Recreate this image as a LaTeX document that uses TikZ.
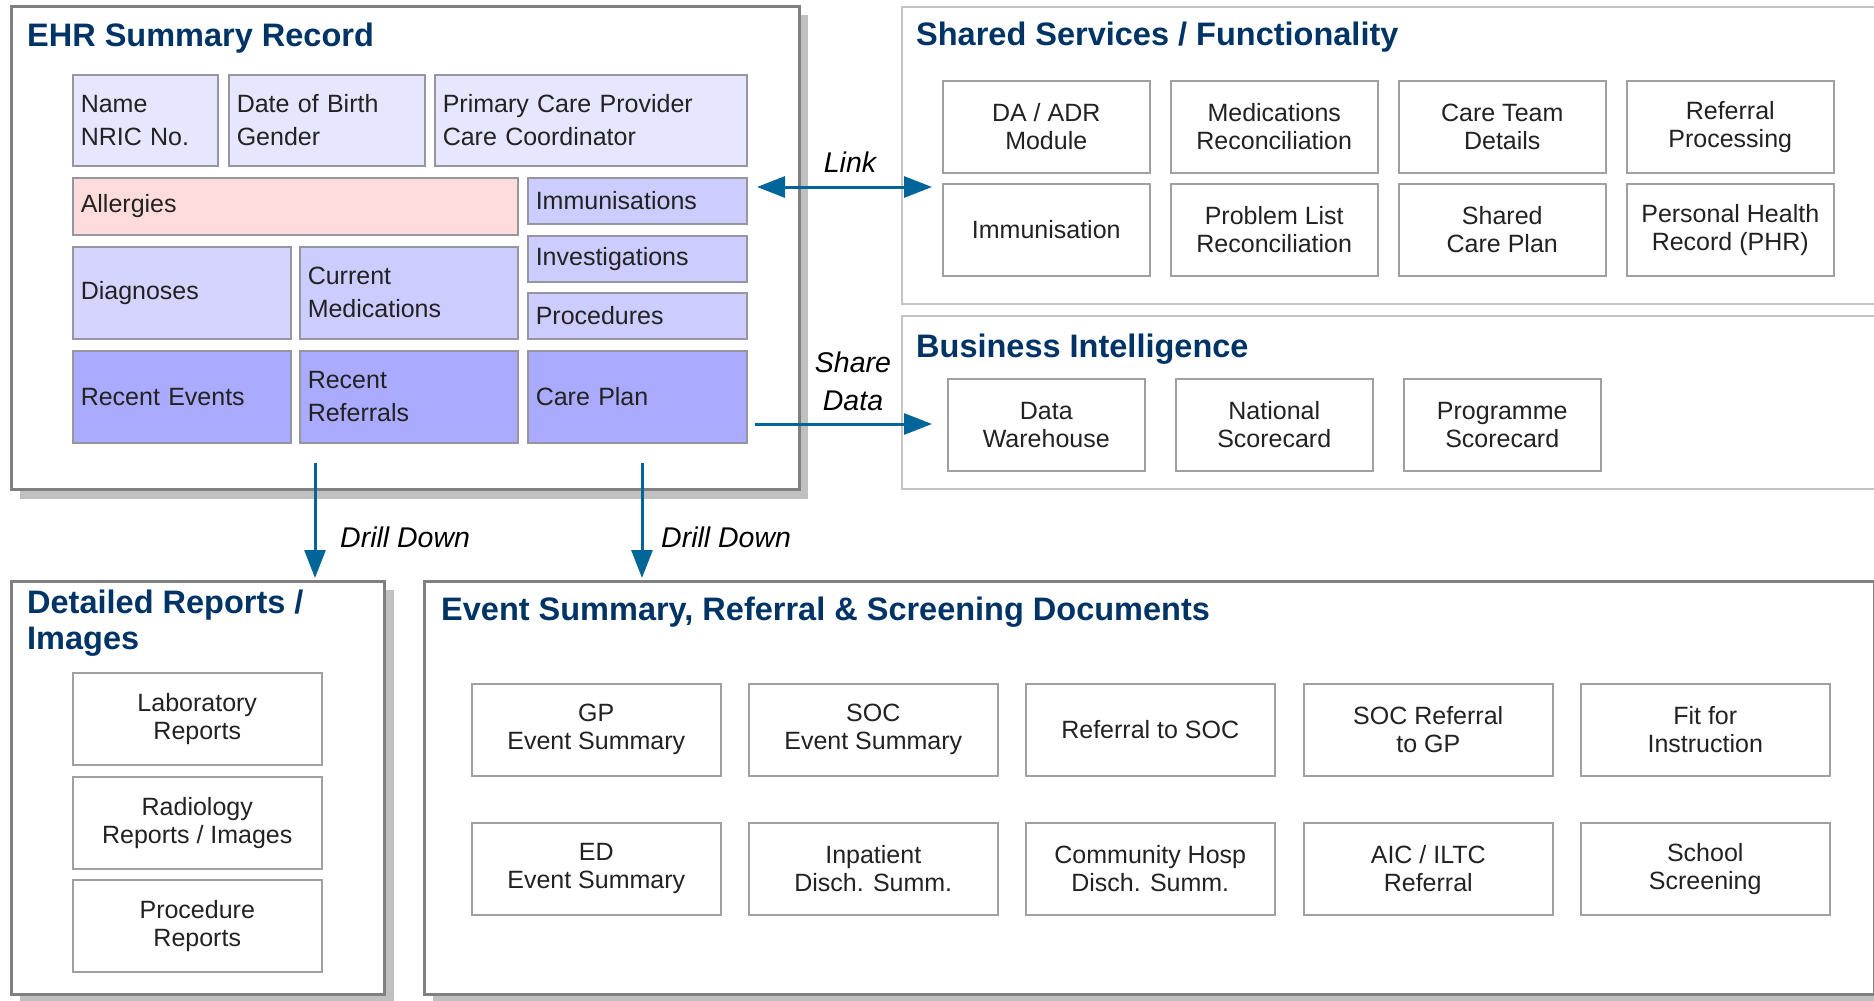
\documentclass[tikz,border=0pt]{standalone}
\usepackage{fontspec}
\setmainfont{Liberation Sans}
\usetikzlibrary{arrows.meta}

\definecolor{titleblue}{RGB}{0,51,102}
\definecolor{arrowblue}{RGB}{0,102,153}
\definecolor{panelgray}{RGB}{128,128,128}
\definecolor{lightpanel}{RGB}{196,196,196}
\definecolor{shadowgray}{RGB}{192,192,192}
\definecolor{boxgray}{RGB}{160,160,160}
\definecolor{innergray}{RGB}{150,150,160}
\definecolor{paleblue}{RGB}{230,230,255}
\definecolor{midblue}{RGB}{204,204,255}
\definecolor{deepblue}{RGB}{170,170,255}
\definecolor{palepink}{RGB}{255,220,220}
\definecolor{textgray}{RGB}{34,34,34}

\tikzset{
  panel/.style={draw=panelgray, line width=2.5pt, fill=white, anchor=north west, inner sep=0pt},
  softpanel/.style={draw=lightpanel, line width=2pt, fill=white, anchor=north west, inner sep=0pt},
  paneltitle/.style={anchor=base west, text=titleblue, font=\fontsize{32.5}{36}\selectfont\bfseries, inner sep=0pt},
  ehrbox/.style={draw=innergray, line width=1.5pt, anchor=north west, align=left, text=textgray,
    font=\fontsize{25}{33}\selectfont, inner xsep=8pt, inner ysep=0pt},
  whitebox/.style={draw=boxgray, line width=1.5pt, fill=white, anchor=north west, align=center,
    text=textgray, font=\fontsize{25}{28}\selectfont, inner sep=0pt, minimum height=92pt},
  flowlabel/.style={text=black, font=\fontsize{28.5}{38}\selectfont\itshape, inner sep=0pt},
  flow/.style={draw=arrowblue, line width=3pt, -{Triangle[length=28pt,width=21pt]}},
  flowboth/.style={draw=arrowblue, line width=3pt, {Triangle[length=28pt,width=21pt]}-{Triangle[length=28pt,width=21pt]}}
}

\begin{document}
\begin{tikzpicture}[x=1pt,y=-1pt]
\useasboundingbox (0,0) rectangle (1874,1001);
\fill[white] (0,0) rectangle (1874,1001);

% EHR summary record
\fill[shadowgray] (20,15) rectangle (808,499);
\node[panel, minimum width=788pt, minimum height=483pt] at (10,5) (ehr) {};
\node[paneltitle] at (27,46) (ehrtitle) {EHR Summary Record};
\node[ehrbox, fill=paleblue, text width=129pt, minimum height=91pt] at (72,74) (name) {Name\\NRIC No.};
\node[ehrbox, fill=paleblue, text width=180pt, minimum height=91pt] at (228,74) (dob) {Date of Birth\\Gender};
\node[ehrbox, fill=paleblue, text width=296pt, minimum height=91pt] at (434,74) (pcp) {Primary Care Provider\\Care Coordinator};
\node[ehrbox, fill=palepink, text width=429pt, minimum height=57pt] at (72,177) (allergies) {Allergies};
\node[ehrbox, fill=midblue, text width=203pt, minimum height=46pt] at (527,177) (immun) {Immunisations};
\node[ehrbox, fill=midblue, text width=203pt, minimum height=46pt] at (527,235) (invest) {Investigations};
\node[ehrbox, fill=midblue, text width=203pt, minimum height=46pt] at (527,292) (proc) {Procedures};
\node[ehrbox, fill=midblue!85!white, text width=202pt, minimum height=92pt] at (72,246) (diag) {Diagnoses};
\node[ehrbox, fill=midblue, text width=202pt, minimum height=92pt] at (299,246) (curmed) {Current\\Medications};
\node[ehrbox, fill=deepblue, text width=202pt, minimum height=92pt] at (72,350) (recevt) {Recent Events};
\node[ehrbox, fill=deepblue, text width=202pt, minimum height=92pt] at (299,350) (recref) {Recent\\Referrals};
\node[ehrbox, fill=deepblue, text width=203pt, minimum height=92pt] at (527,350) (careplan) {Care Plan};

% shared services
\node[softpanel, minimum width=990pt, minimum height=297pt] at (901,6) (shared) {};
\node[paneltitle] at (916,45) (sharedtitle) {Shared Services / Functionality};
\node[whitebox, minimum width=207pt] at (942,80) (daadr) {DA / ADR\\Module};
\node[whitebox, minimum width=207pt] at (1170,80) (medrec) {Medications\\Reconciliation};
\node[whitebox, minimum width=207pt] at (1398,80) (careteam) {Care Team\\Details};
\node[whitebox, minimum width=207pt] at (1626,80) (refproc) {Referral\\Processing};
\node[whitebox, minimum width=207pt] at (942,183) (immunsvc) {Immunisation};
\node[whitebox, minimum width=207pt] at (1170,183) (probrec) {Problem List\\Reconciliation};
\node[whitebox, minimum width=207pt] at (1398,183) (sharedplan) {Shared\\Care Plan};
\node[whitebox, minimum width=207pt] at (1626,183) (phr) {Personal Health\\Record (PHR)};

% business intelligence
\node[softpanel, minimum width=990pt, minimum height=173pt] at (901,315) (bi) {};
\node[paneltitle] at (916,357) (bititle) {Business Intelligence};
\node[whitebox, minimum width=197pt] at (947,378) (warehouse) {Data\\Warehouse};
\node[whitebox, minimum width=197pt] at (1175,378) (natscore) {National\\Scorecard};
\node[whitebox, minimum width=197pt] at (1403,378) (progscore) {Programme\\Scorecard};

% detailed reports
\fill[shadowgray] (20,590) rectangle (394,1003);
\node[panel, minimum width=373pt, minimum height=413pt] at (10,580) (detail) {};
\node[paneltitle, anchor=north west, align=left, font=\fontsize{32.5}{36}\selectfont\bfseries] at (27,590) (detailtitle) {Detailed Reports /\\Images};
\node[whitebox, minimum width=249pt] at (72,672) (labrep) {Laboratory\\Reports};
\node[whitebox, minimum width=249pt] at (72,776) (radrep) {Radiology\\Reports / Images};
\node[whitebox, minimum width=249pt] at (72,879) (procrep) {Procedure\\Reports};

% event summary documents
\fill[shadowgray] (433,590) rectangle (1884,1003);
\node[panel, minimum width=1450pt, minimum height=413pt] at (423,580) (event) {};
\node[paneltitle] at (441,620) (eventtitle) {Event Summary, Referral \& Screening Documents};
\node[whitebox, minimum width=249pt] at (471,683) (gpsum) {GP\\Event Summary};
\node[whitebox, minimum width=249pt] at (748,683) (socsum) {SOC\\Event Summary};
\node[whitebox, minimum width=249pt] at (1025,683) (reftosoc) {Referral to SOC};
\node[whitebox, minimum width=249pt] at (1303,683) (socref) {SOC Referral\\to GP};
\node[whitebox, minimum width=249pt] at (1580,683) (fitinstr) {Fit for\\Instruction};
\node[whitebox, minimum width=249pt] at (471,822) (edsum) {ED\\Event Summary};
\node[whitebox, minimum width=249pt] at (748,822) (inpat) {Inpatient\\Disch. Summ.};
\node[whitebox, minimum width=249pt] at (1025,822) (commhosp) {Community Hosp\\Disch. Summ.};
\node[whitebox, minimum width=249pt] at (1303,822) (aicref) {AIC / ILTC\\Referral};
\node[whitebox, minimum width=249pt] at (1580,822) (school) {School\\Screening};

% connectors
\coordinate (linkA) at (757,187);
\coordinate (linkB) at (932,187);
\coordinate (shareA) at (755,424);
\coordinate (shareB) at (932,424);
\coordinate (drillA) at (315,463);
\coordinate (drillB) at (315,578);
\coordinate (drillC) at (642,463);
\coordinate (drillD) at (642,578);
\draw[flowboth] (linkA) -- (linkB);
\draw[flow] (shareA) -- (shareB);
\draw[flow] (drillA) -- (drillB);
\draw[flow] (drillC) -- (drillD);
\node[flowlabel, anchor=base] at (850,172) (linklbl) {Link};
\node[flowlabel, align=center] at (853,381) (sharelbl) {Share\\Data};
\node[flowlabel, anchor=base west] at (340,547) (drilllbl) {Drill Down};
\node[flowlabel, anchor=base west] at (661,547) (drilllbl2) {Drill Down};
\end{tikzpicture}
\end{document}
